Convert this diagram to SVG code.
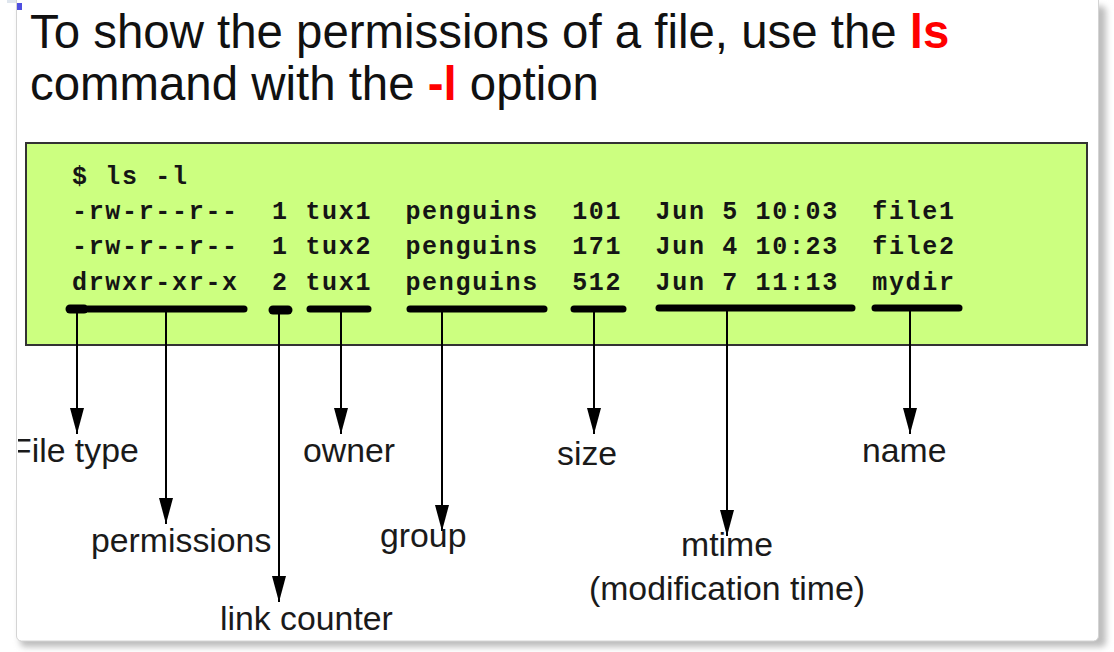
<svg xmlns="http://www.w3.org/2000/svg" width="1114" height="652" viewBox="0 0 1114 652">
  <defs>
    <filter id="sh" x="-5%" y="-5%" width="110%" height="110%">
      <feGaussianBlur stdDeviation="3"/>
    </filter>
    <marker id="ah" viewBox="0 0 26 14" markerWidth="26" markerHeight="14" refX="26" refY="7" orient="auto" markerUnits="userSpaceOnUse">
      <path d="M0,0 L26,7 L0,14 z" fill="#000"/>
    </marker>
    <style>
      .title { font-family: "Liberation Sans", Arial, sans-serif; font-size: 47.4px; fill: #111; }
      .red { fill: #ff0000; font-weight: bold; }
      .code { font-family: "Liberation Mono", "Courier New", monospace; font-size: 25px; letter-spacing: 1.67px; font-weight: bold; fill: #151515; white-space: pre; }
      .lbl { font-family: "Liberation Sans", Arial, sans-serif; font-size: 33.8px; fill: #1a1a1a; }
      .bar { stroke: #000; stroke-width: 7; stroke-linecap: round; fill: none; }
      .blob { stroke: #000; stroke-width: 9; stroke-linecap: round; fill: none; }
      .arr { stroke: #000; stroke-width: 2; fill: none; marker-end: url(#ah); }
    </style>
  </defs>

  <!-- page background -->
  <rect x="0" y="0" width="1114" height="652" fill="#ffffff"/>
  <rect x="7" y="0" width="249" height="3" fill="#dfe6ee"/>

  <!-- card shadow and card -->
  <rect x="20" y="6" width="1086" height="641" rx="5" fill="#bdbdbd" filter="url(#sh)"/>
  <rect x="16.5" y="-10" width="1082" height="651" rx="5" fill="#ffffff" stroke="#d4d4d4" stroke-width="1"/>
  <rect x="17" y="3" width="5" height="7" fill="#4f4fe0"/>

  <!-- title -->
  <g id="title">
    <text class="title" x="30" y="48">To show the permissions of a file, use the <tspan class="red">ls</tspan></text>
    <text class="title" x="30" y="100">command with the <tspan class="red">-l</tspan> option</text>
  </g>

  <!-- code box -->
  <g id="code-box">
    <rect x="26" y="143" width="1061" height="202" fill="#ccff80" stroke="#333333" stroke-width="2"/>
    <text class="code" x="72" y="184" xml:space="preserve">$ ls -l</text>
    <text class="code" x="72" y="219" xml:space="preserve">-rw-r--r--  1 tux1  penguins  101  Jun 5 10:03  file1</text>
    <text class="code" x="72" y="254" xml:space="preserve">-rw-r--r--  1 tux2  penguins  171  Jun 4 10:23  file2</text>
    <text class="code" x="72" y="290" xml:space="preserve">drwxr-xr-x  2 tux1  penguins  512  Jun 7 11:13  mydir</text>
  </g>

  <!-- connectors -->
  <g id="connectors">
    <line class="blob" x1="70" y1="309" x2="84" y2="309"/>
    <line class="bar" x1="88" y1="309" x2="244" y2="309"/>
    <line class="blob" x1="273" y1="310" x2="288" y2="310"/>
    <line class="bar" x1="310" y1="309" x2="368" y2="309"/>
    <line class="bar" x1="410" y1="309" x2="544" y2="309"/>
    <line class="bar" x1="574" y1="309" x2="623" y2="309"/>
    <line class="bar" x1="659" y1="308" x2="852" y2="308"/>
    <line class="bar" x1="875" y1="308" x2="959" y2="308"/>

    <line class="arr" x1="77" y1="310" x2="77" y2="434"/>
    <line class="arr" x1="166" y1="310" x2="166" y2="524"/>
    <line class="arr" x1="279" y1="310" x2="279" y2="602"/>
    <line class="arr" x1="341" y1="310" x2="341" y2="434"/>
    <line class="arr" x1="442" y1="310" x2="442" y2="531"/>
    <line class="arr" x1="594" y1="310" x2="594" y2="434"/>
    <line class="arr" x1="727" y1="310" x2="727" y2="536"/>
    <line class="arr" x1="910" y1="310" x2="910" y2="434"/>
  </g>

  <!-- labels -->
  <g id="label-filetype"><text class="lbl" x="11" y="462">File type</text></g>
  <g id="label-permissions"><text class="lbl" x="91" y="552">permissions</text></g>
  <g id="label-link"><text class="lbl" x="220" y="630">link counter</text></g>
  <g id="label-owner"><text class="lbl" x="303" y="462">owner</text></g>
  <g id="label-group"><text class="lbl" x="380" y="547">group</text></g>
  <g id="label-size"><text class="lbl" x="557" y="465">size</text></g>
  <g id="label-mtime">
    <text class="lbl" x="727" y="556" text-anchor="middle">mtime</text>
    <text class="lbl" x="727" y="600" text-anchor="middle">(modification time)</text>
  </g>
  <g id="label-name"><text class="lbl" x="862" y="462">name</text></g>

  <!-- left margin mask (card edge clips the label) -->
  <rect x="0" y="380" width="18" height="120" fill="#ffffff"/>
  <line x1="16.5" y1="380" x2="16.5" y2="500" stroke="#d4d4d4" stroke-width="1"/>
</svg>
